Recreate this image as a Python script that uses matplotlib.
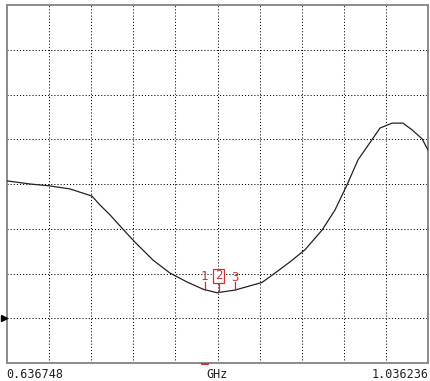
"""Network-analyzer style trace: response vs frequency with three markers."""
import matplotlib
matplotlib.use("Agg")
import matplotlib.pyplot as plt
from matplotlib.patches import Rectangle
import numpy as np

F_START = 0.636748
F_STOP = 1.036236
N_XDIV = 10
N_YDIV = 8
REF_LEVEL = 1.0  # reference marker on the left edge (in divisions)

# trace: frequency in GHz, level in grid divisions
freq_ghz = [0.6367, 0.6586, 0.6766, 0.6965, 0.7174, 0.7250, 0.7345, 0.7468,
            0.7582, 0.7753, 0.7914, 0.8076, 0.8227, 0.8360, 0.8531, 0.8787,
            0.8911, 0.9053, 0.9195, 0.9357, 0.9480, 0.9594, 0.9698, 0.9784,
            0.9907, 1.0021, 1.0125, 1.0211, 1.0306, 1.0362]
level_div = [4.07, 4.00, 3.96, 3.89, 3.73, 3.53, 3.31, 2.99,
             2.70, 2.30, 2.01, 1.81, 1.65, 1.57, 1.63, 1.80,
             2.01, 2.26, 2.53, 2.97, 3.42, 3.98, 4.54, 4.83,
             5.25, 5.36, 5.36, 5.21, 5.01, 4.76]

marker_ids = ["1", "2", "3"]
marker_freq = [0.8246, 0.8379, 0.8531]
active_marker = "2"

RED = "#d03030"

fig = plt.figure(figsize=(4.31, 3.81), dpi=100)
ax = fig.add_axes([7 / 431, 18 / 381, 421 / 431, 358 / 381])

ax.set_xlim(F_START, F_STOP)
ax.set_ylim(0, N_YDIV)
xt = np.linspace(F_START, F_STOP, N_XDIV + 1)
ax.set_xticks(xt[1:-1])
ax.set_yticks(np.arange(1, N_YDIV))
ax.tick_params(length=0, labelbottom=False, labelleft=False)
ax.grid(True, color="black", ls=(0, (1, 2)), lw=0.75)

for s in ax.spines.values():
    s.set_color("#8a8a8a")
    s.set_linewidth(1.4)

ax.plot(freq_ghz, level_div, color="#222222", lw=0.9, zorder=3)

# markers: number above a short red stem, active one boxed
df = (F_STOP - F_START) / 421  # one pixel in GHz
trace = lambda f: np.interp(f, freq_ghz, level_div)
mtxt = dict(color=RED, fontsize=9, ha="center", va="center",
            family="DejaVu Sans Mono", zorder=5)
for mid, mf in zip(marker_ids, marker_freq):
    y0 = trace(mf)
    if mid == active_marker:
        ax.plot([mf, mf], [y0, y0 + 0.21], color=RED, lw=0.9, zorder=4)
        ax.add_patch(Rectangle((mf - 6 * df, y0 + 0.21), 11 * df, 0.32,
                               fc="white", ec=RED, lw=0.9, zorder=4))
        ax.text(mf - 0.5 * df, y0 + 0.37, mid, **mtxt)
    else:
        ax.plot([mf, mf], [y0, y0 + 0.18], color=RED, lw=0.9, zorder=4)
        ax.text(mf - 0.5 * df, y0 + 0.29, mid, **mtxt)

# active marker tick under the frame
ax.plot([marker_freq[0] - 3 * df, marker_freq[0] + 3 * df], [-0.03, -0.03],
        color=RED, lw=1.4, clip_on=False, zorder=6)

# reference level arrow on the left edge
ax.plot([F_START - 3.5 * df], [REF_LEVEL], marker=">", color="black",
        markersize=4, clip_on=False, zorder=6)

mono = dict(family="DejaVu Sans Mono", fontsize=8.5, color="#222222")
fig.text(6 / 431, 1 - 374 / 381, f"{F_START:.6f}", ha="left", va="center", **mono)
fig.text(217 / 431, 1 - 374 / 381, "GHz", ha="center", va="center", **mono)
fig.text(429 / 431, 1 - 374 / 381, f"{F_STOP:.6f}", ha="right", va="center", **mono)

fig.savefig("out.png", dpi=100, facecolor="white")
